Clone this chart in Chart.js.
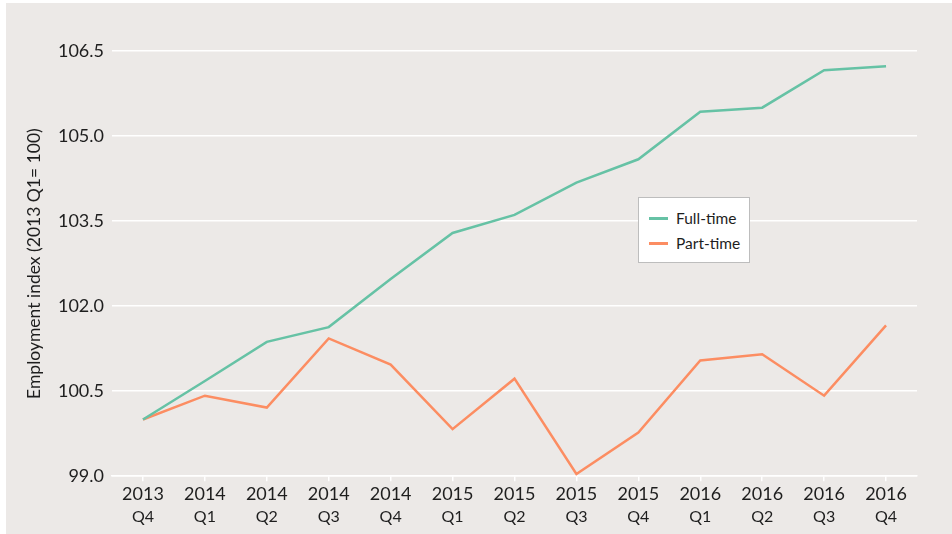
<!DOCTYPE html>
<html>
<head>
<meta charset="utf-8">
<title>Employment index</title>
<script src="https://cdn.jsdelivr.net/npm/chart.js@4"></script>
<style>
  body { margin: 0; background: #fff; font-family: Lato, sans-serif; }
  #wrap { position: absolute; left: 6px; top: 3px; width: 946px; height: 531px; background: #ECE9E7; }
  #legend { position: absolute; left: 632px; top: 194px; width: 112px; height: 66px; background: #fff;
            border: 1px solid #bdbdbd; box-sizing: border-box; }
  .item { position: absolute; left: 10px; height: 20px; display: flex; align-items: center;
          font-size: 15.5px; color: #1e1e1e; }
  .swatch { width: 19px; height: 3px; margin-right: 8px; }
</style>
</head>
<body>
<div id="wrap">
  <canvas id="chart" width="946" height="531"></canvas>
  <div id="legend"></div>
</div>
<script>
// Data
const years = ['2013', '2014', '2014', '2014', '2014', '2015', '2015', '2015', '2015', '2016', '2016', '2016', '2016'];
const quarters = ['Q4', 'Q1', 'Q2', 'Q3', 'Q4', 'Q1', 'Q2', 'Q3', 'Q4', 'Q1', 'Q2', 'Q3', 'Q4'];
const fullTime = [100.0, 100.68, 101.37, 101.63, 102.48, 103.29, 103.61, 104.18, 104.59, 105.43, 105.5, 106.16, 106.23];
const partTime = [100.0, 100.42, 100.21, 101.43, 100.97, 99.83, 100.72, 99.04, 99.77, 101.04, 101.15, 100.42, 101.66];
const yTicks = [99.0, 100.5, 102.0, 103.5, 105.0, 106.5];

const seriesNames = ['Full-time', 'Part-time'];
const seriesColors = ['#66C2A5', '#FC8D62'];

Chart.defaults.font.family = 'Lato, sans-serif';
Chart.defaults.color = '#1e1e1e';

const chart = new Chart(document.getElementById('chart'), {
  type: 'line',
  data: {
    labels: years,
    datasets: [
      { label: seriesNames[0], data: fullTime, borderColor: seriesColors[0], backgroundColor: seriesColors[0] },
      { label: seriesNames[1], data: partTime, borderColor: seriesColors[1], backgroundColor: seriesColors[1] }
    ]
  },
  options: {
    responsive: false,
    animation: false,
    layout: { padding: { top: 48, right: 35, bottom: 8, left: 0 } },
    elements: {
      line: { borderWidth: 2.5, tension: 0 },
      point: { radius: 0 }
    },
    plugins: {
      legend: { display: false },
      tooltip: { enabled: false }
    },
    scales: {
      x: {
        offset: true,
        weight: 0,
        grid: { drawOnChartArea: false, drawTicks: true, tickLength: 5, color: '#ffffff', lineWidth: 1.5 },
        border: { display: true, color: '#ffffff', width: 1.5 },
        ticks: { font: { size: 18 }, padding: 2, maxRotation: 0, autoSkip: false }
      },
      x2: {
        type: 'category',
        labels: quarters,
        position: 'bottom',
        offset: true,
        weight: 1,
        grid: { display: false, drawTicks: false },
        border: { display: false },
        ticks: { font: { size: 16 }, padding: 0, maxRotation: 0, autoSkip: false }
      },
      y: {
        min: yTicks[0],
        max: yTicks[yTicks.length - 1],
        afterFit: function(scale) { scale.width = 106; },
        afterBuildTicks: function(scale) {
          scale.ticks = yTicks.map(v => ({ value: v }));
        },
        grid: { drawTicks: false, color: '#ffffff', lineWidth: 1.5 },
        border: { display: false },
        ticks: {
          font: { size: 18 },
          padding: 8,
          callback: v => v.toFixed(1)
        },
        title: {
          display: true,
          text: 'Employment index (2013 Q1= 100)',
          font: { size: 17.5 },
          padding: { top: 18, bottom: 0 }
        }
      }
    }
  }
});

// Legend box built from the datasets
const legend = document.getElementById('legend');
chart.data.datasets.forEach(function(ds, i) {
  const item = document.createElement('div');
  item.className = 'item';
  item.style.top = (10 + i * 25) + 'px';
  item.innerHTML = '<span class="swatch" style="background:' + ds.borderColor + '"></span>' + ds.label;
  legend.appendChild(item);
});
</script>
</body>
</html>
